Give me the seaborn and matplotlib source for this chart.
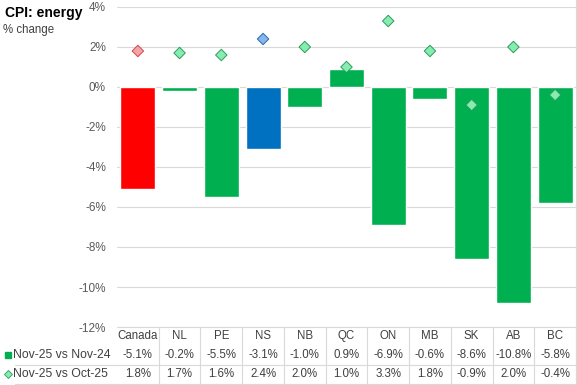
import numpy as np
import pandas as pd
import matplotlib
matplotlib.use("Agg")
import matplotlib.pyplot as plt
import seaborn as sns
from matplotlib.lines import Line2D
from matplotlib.transforms import blended_transform_factory

# ---- data ----
categories = ["Canada", "NL", "PE", "NS", "NB", "QC", "ON", "MB", "SK", "AB", "BC"]
yoy = [-5.1, -0.2, -5.5, -3.1, -1.0, 0.9, -6.9, -0.6, -8.6, -10.8, -5.8]
mom = [1.8, 1.7, 1.6, 2.4, 2.0, 1.0, 3.3, 1.8, -0.9, 2.0, -0.4]
yticks = [-12, -10, -8, -6, -4, -2, 0, 2, 4]
series_names = ["Nov-25 vs Nov-24", "Nov-25 vs Oct-25"]

# ---- styles ----
GREEN, RED, BLUE = "#00B050", "#FF0000", "#0070C0"
bar_colors = {c: GREEN for c in categories}
bar_colors["Canada"] = RED
bar_colors["NS"] = BLUE
dia_fill = {c: "#86EDB0" for c in categories}
dia_fill["Canada"] = "#F4A3A6"
dia_fill["NS"] = "#84B7EA"
dia_edge = ["#2E9A5E"] * len(categories)
dia_edge[0] = "#D0484C"
dia_edge[3] = "#2A6AB0"

W, H = 577, 385
sns.set_theme(style="white")
plt.rcParams["font.family"] = ["Liberation Sans", "DejaVu Sans"]
fig = plt.figure(figsize=(W / 100, H / 100), dpi=100)
L, R, T, B = 117, 576, 7, 327
ax = fig.add_axes([L / W, 1 - B / H, (R - L) / W, (B - T) / H])

df = pd.DataFrame({"cat": categories, "yoy": yoy, "mom": mom})
sns.barplot(data=df, x="cat", y="yoy", hue="cat", palette=bar_colors,
            legend=False, width=0.84, saturation=1, ax=ax, zorder=2)
sns.scatterplot(x=np.arange(len(categories)), y=df["mom"], hue=df["cat"],
                palette=dia_fill, marker="D", s=34, edgecolor=dia_edge,
                linewidth=0.7, legend=False, ax=ax, zorder=3)

ax.set_xlim(-0.5, len(categories) - 0.5)
ax.set_ylim(-12, 4)
ax.set_yticks(yticks)
ax.set_yticklabels([f"{v}%" for v in yticks], fontsize=8.5, color="#595959")
ax.tick_params(axis="y", length=0, pad=8)
ax.set_xticks([])
ax.set_xlabel("")
ax.set_ylabel("")
ax.grid(axis="y", color="#D9D9D9", linewidth=0.8, zorder=0)
ax.set_axisbelow(True)
for s in ax.spines.values():
    s.set_visible(False)

# ---- data table ----
tr = blended_transform_factory(ax.transData, fig.transFigure)
fy = lambda yp: 1 - yp / H
lc = "#D9D9D9"
n = len(categories)
for k in range(1, n + 1):
    x = k - 0.5
    fig.add_artist(Line2D([x, x], [fy(327), fy(383)], transform=tr, color=lc, lw=0.8))
fig.add_artist(Line2D([-0.5, n - 0.5], [fy(327), fy(327)], transform=tr, color=lc, lw=0.8))
fig.add_artist(Line2D([15 / W, R / W], [fy(365), fy(365)], transform=fig.transFigure, color=lc, lw=0.8))
fig.add_artist(Line2D([15 / W, R / W], [fy(383.5), fy(383.5)], transform=fig.transFigure, color=lc, lw=0.8))
# right border
fig.add_artist(Line2D([R / W, R / W], [0, 1], transform=fig.transFigure, color=lc, lw=0.8))

tcol = "#404040"
for i, c in enumerate(categories):
    fig.text(i, fy(336), c, transform=tr, ha="center", va="center", fontsize=8.3, color=tcol)
    fig.text(i, fy(355), f"{yoy[i]:.1f}%", transform=tr, ha="center", va="center", fontsize=8.3, color=tcol)
    fig.text(i, fy(374), f"{mom[i]:.1f}%", transform=tr, ha="center", va="center", fontsize=8.3, color=tcol)

fig.add_artist(Line2D([8 / W], [fy(355)], transform=fig.transFigure, marker="s", ms=4.5,
                      color=GREEN, linestyle="none"))
fig.add_artist(Line2D([8 / W], [fy(374)], transform=fig.transFigure, marker="D", ms=4,
                      markerfacecolor="#86EDB0", markeredgecolor="#2E9A5E", mew=0.6, linestyle="none"))
fig.text(13 / W, fy(355), series_names[0], ha="left", va="center", fontsize=8.8, color=tcol)
fig.text(13 / W, fy(374), series_names[1], ha="left", va="center", fontsize=8.8, color=tcol)

# ---- titles ----
fig.text(5 / W, fy(13), "CPI: energy", ha="left", va="center", fontsize=10, fontweight="bold", color="#000000")
fig.text(3 / W, fy(30), "% change", ha="left", va="center", fontsize=8.3, color="#404040")

fig.savefig("out.png", dpi=100)
